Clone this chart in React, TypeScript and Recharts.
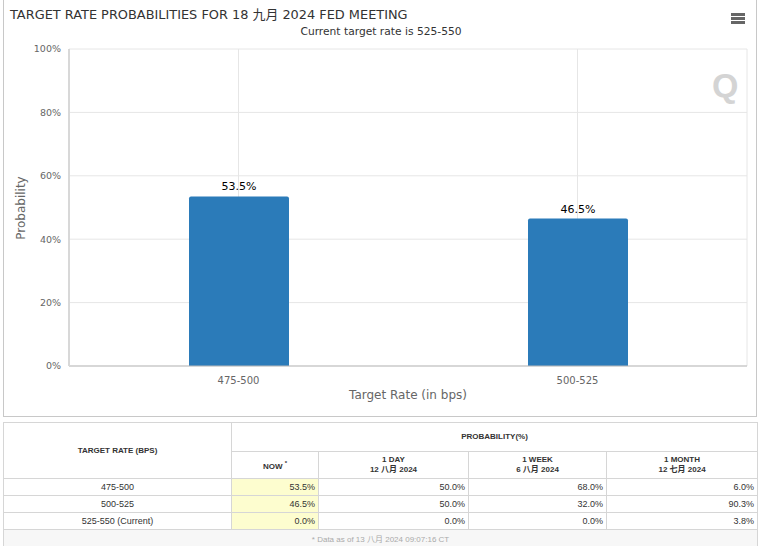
import React from "react";
import { BarChart, Bar, XAxis, YAxis, CartesianGrid, LabelList } from "recharts";

const rates = ["475-500", "500-525"];
const probabilities = [53.5, 46.5];
const yTicks = [0, 20, 40, 60, 80, 100];

const tableRates = ["475-500", "500-525", "525-550 (Current)"];
const nowValues = [53.5, 46.5, 0.0];
const dayValues = [50.0, 50.0, 0.0];
const weekValues = [68.0, 32.0, 0.0];
const monthValues = [6.0, 90.3, 3.8];

const data = rates.map((r, i) => ({ rate: r, prob: probabilities[i] }));

const TITLE_FONT = "'DejaVu Sans', 'Noto Sans CJK SC', sans-serif";
const TABLE_FONT = "'Liberation Sans', Arial, 'Noto Sans CJK SC', sans-serif";

const cell: React.CSSProperties = {
  border: "1px solid #d6d6d6",
  padding: "0 3px",
  fontSize: 9,
  color: "#333",
};

const head: React.CSSProperties = {
  ...cell,
  textAlign: "center",
  fontWeight: "bold",
  fontSize: 8,
  lineHeight: "10px",
};

export default function App() {
  return (
    <div
      style={{
        position: "absolute",
        left: 0,
        top: 0,
        width: 760,
        height: 546,
        background: "#fff",
        overflow: "hidden",
      }}
    >
      {/* chart box */}
      <div
        style={{
          position: "absolute",
          left: 3,
          top: -1,
          width: 752,
          height: 416,
          border: "1px solid #c8c8c8",
        }}
      />
      <div
        style={{
          position: "absolute",
          left: 10,
          top: 4,
          fontFamily: TITLE_FONT,
          fontSize: 12.9,
          color: "#333",
          whiteSpace: "nowrap",
        }}
      >
        TARGET RATE PROBABILITIES FOR 18 九月 2024 FED MEETING
      </div>
      <div
        style={{
          position: "absolute",
          left: 0,
          width: 762,
          top: 25,
          textAlign: "center",
          fontFamily: TITLE_FONT,
          fontSize: 10.7,
          color: "#333",
        }}
      >
        Current target rate is 525-550
      </div>
      {/* menu icon */}
      {[13, 17, 21].map((y) => (
        <div
          key={y}
          style={{
            position: "absolute",
            left: 731,
            top: y,
            width: 14,
            height: 2.5,
            background: "#666",
          }}
        />
      ))}
      {/* watermark */}
      <div
        style={{
          position: "absolute",
          left: 712,
          top: 66,
          fontFamily: "'Liberation Sans', sans-serif",
          fontWeight: "bold",
          fontSize: 34,
          color: "#d4d4d4",
        }}
      >
        Q
      </div>

      <div style={{ position: "absolute", left: 3, top: 0 }}>
        <BarChart
          width={754}
          height={416}
          data={data}
          margin={{ top: 49, right: 10, left: 2, bottom: 0 }}
          barCategoryGap="0%"
        >
          <CartesianGrid stroke="#e6e6e6" vertical={true} horizontal={true} />
          <XAxis
            dataKey="rate"
            axisLine={{ stroke: "#bbb" }}
            tickLine={false}
            tick={{ fill: "#666", fontSize: 10, fontFamily: TITLE_FONT }}
            tickMargin={5}
            height={50}
            label={{
              content: () => (
                <text
                  x={405}
                  y={399}
                  textAnchor="middle"
                  fill="#666"
                  fontSize={12}
                  fontFamily={TITLE_FONT}
                >
                  Target Rate (in bps)
                </text>
              ),
            }}
          />
          <YAxis
            type="number"
            domain={[0, 100]}
            ticks={yTicks}
            interval={0}
            width={64}
            axisLine={{ stroke: "#d8d8d8", strokeWidth: 2 }}
            tickLine={false}
            tickFormatter={(v: number) => `${v}%`}
            tick={{ fill: "#666", fontSize: 9.5, fontFamily: TITLE_FONT }}
            label={{
              content: () => (
                <text
                  x={22}
                  y={208}
                  transform="rotate(-90 22 208)"
                  textAnchor="middle"
                  fill="#666"
                  fontSize={12}
                  fontFamily={TITLE_FONT}
                >
                  Probability
                </text>
              ),
            }}
          />
          <Bar
            dataKey="prob"
            fill="#2b7bb9"
            barSize={100}
            radius={[2, 2, 0, 0]}
            isAnimationActive={false}
          >
            <LabelList
              dataKey="prob"
              position="top"
              offset={6}
              formatter={(v: any) => `${Number(v).toFixed(1)}%`}
              style={{ fill: "#000", fontSize: 11, fontFamily: TITLE_FONT }}
            />
          </Bar>
        </BarChart>
      </div>

      {/* table */}
      <table
        style={{
          position: "absolute",
          left: 3,
          top: 422,
          width: 754,
          borderCollapse: "collapse",
          tableLayout: "fixed",
          fontFamily: TABLE_FONT,
          background: "#fff",
        }}
      >
        <colgroup>
          <col style={{ width: 228 }} />
          <col style={{ width: 87 }} />
          <col style={{ width: 150 }} />
          <col style={{ width: 138 }} />
          <col style={{ width: 151 }} />
        </colgroup>
        <tbody>
          <tr style={{ height: 29 }}>
            <td rowSpan={2} style={head}>
              TARGET RATE (BPS)
            </td>
            <td colSpan={4} style={head}>
              PROBABILITY(%)
            </td>
          </tr>
          <tr style={{ height: 27 }}>
            <td style={head}>
              NOW <sup style={{ fontSize: 6 }}>*</sup>
            </td>
            <td style={head}>
              1 DAY
              <br />
              12 八月 2024
            </td>
            <td style={head}>
              1 WEEK
              <br />6 八月 2024
            </td>
            <td style={head}>
              1 MONTH
              <br />
              12 七月 2024
            </td>
          </tr>
          {tableRates.map((r, i) => (
            <tr key={r} style={{ height: 17 }}>
              <td style={{ ...cell, textAlign: "center" }}>{r}</td>
              <td style={{ ...cell, textAlign: "right", background: "#fdfdcf" }}>
                {nowValues[i].toFixed(1)}%
              </td>
              <td style={{ ...cell, textAlign: "right" }}>{dayValues[i].toFixed(1)}%</td>
              <td style={{ ...cell, textAlign: "right" }}>{weekValues[i].toFixed(1)}%</td>
              <td style={{ ...cell, textAlign: "right" }}>{monthValues[i].toFixed(1)}%</td>
            </tr>
          ))}
          <tr style={{ height: 17 }}>
            <td
              colSpan={5}
              style={{ ...cell, textAlign: "center", background: "#f7f7f7", color: "#aaa", fontSize: 8 }}
            >
              * Data as of 13 八月 2024 09:07:16 CT
            </td>
          </tr>
        </tbody>
      </table>
    </div>
  );
}
